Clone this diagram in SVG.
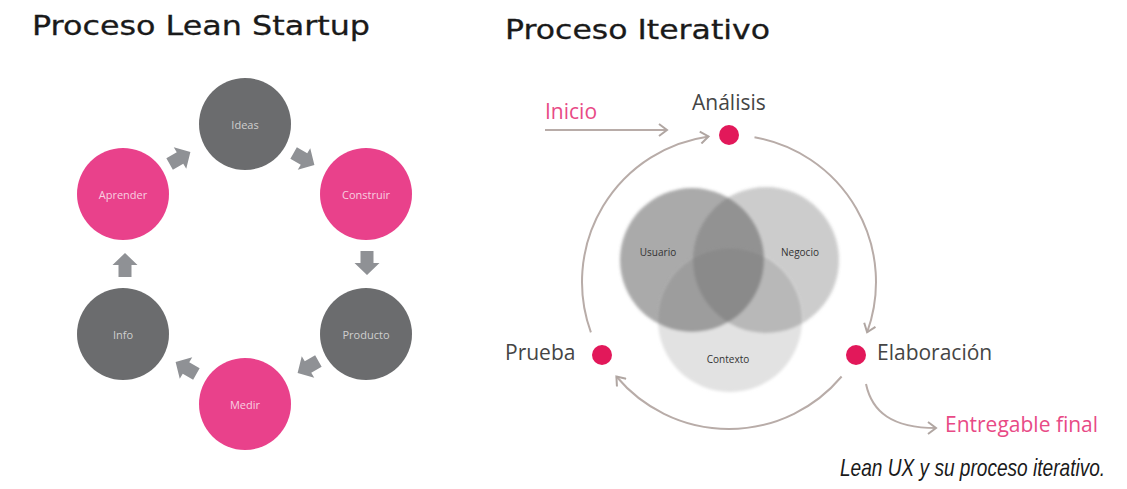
<svg xmlns="http://www.w3.org/2000/svg" width="1127" height="489" viewBox="0 0 1127 489">
  <style>
    .title { font-family: "DejaVu Sans", Verdana, sans-serif; font-size: 27px; fill: #1a1a1a; stroke: #1a1a1a; stroke-width: 0.3; }
    .lbl { font-family: "Open Sans", "Liberation Sans", sans-serif; font-size: 11px; text-anchor: middle; dominant-baseline: central; }
    .gray { fill: #6b6c6e; }
    .pink { fill: #e9418b; }
    .lg { fill: #cfcfcf; }
    .lp { fill: #f8cfe0; }
    .blk { fill: #8f9195; }
    .step { font-family: "Open Sans", "Liberation Sans", sans-serif; font-size: 21px; fill: #454545; }
    .pinkt { font-family: "Open Sans", "Liberation Sans", sans-serif; font-size: 21px; fill: #e84a86; }
    .dot { fill: #e2185a; }
    .venn { font-family: "Open Sans", "Liberation Sans", sans-serif; font-size: 10px; fill: #333; text-anchor: middle; dominant-baseline: central; }
    .arc { fill: none; stroke: #b8aca8; stroke-width: 2; marker-end: url(#chev); }
    .cap { font-family: "Liberation Sans", Arial, sans-serif; font-style: italic; font-size: 23px; fill: #1a1a1a; }
  </style>
  <defs>
    <marker id="chev" markerWidth="12" markerHeight="14" refX="10" refY="7" orient="auto" markerUnits="userSpaceOnUse">
      <path d="M2,1 L10,7 L2,13" fill="none" stroke="#b0a6a2" stroke-width="2"/>
    </marker>
    <path id="blockArrow" d="M-12,-6.5 L0,-6.5 L0,-12.5 L12,0 L0,12.5 L0,6.5 L-12,6.5 Z"/>
    <filter id="soft" x="-10%" y="-10%" width="120%" height="120%">
      <feGaussianBlur stdDeviation="1.5"/>
    </filter>
  </defs>
  <rect width="1127" height="489" fill="#ffffff"/>

  <text class="title" x="32" y="35" textLength="338" lengthAdjust="spacingAndGlyphs">Proceso Lean Startup</text>
  <text class="title" x="505" y="39" textLength="265" lengthAdjust="spacingAndGlyphs">Proceso Iterativo</text>

  <!-- Lean Startup cycle -->
  <g id="ideas"><circle class="gray" cx="245" cy="124" r="46"/><text class="lbl lg" x="245" y="124">Ideas</text></g>
  <g id="construir"><circle class="pink" cx="366" cy="194" r="46"/><text class="lbl lp" x="366" y="194">Construir</text></g>
  <g id="producto"><circle class="gray" cx="366" cy="334" r="46"/><text class="lbl lg" x="366" y="334">Producto</text></g>
  <g id="medir"><circle class="pink" cx="245" cy="404" r="46"/><text class="lbl lp" x="245" y="404">Medir</text></g>
  <g id="info"><circle class="gray" cx="123" cy="334" r="46"/><text class="lbl lg" x="123" y="334">Info</text></g>
  <g id="aprender"><circle class="pink" cx="123" cy="194" r="46"/><text class="lbl lp" x="123" y="194">Aprender</text></g>

  <g id="cycle-arrows" class="blk">
    <use href="#blockArrow" transform="translate(180,158) rotate(-30)"/>
    <use href="#blockArrow" transform="translate(304,159) rotate(30)"/>
    <use href="#blockArrow" transform="translate(367,263) rotate(90)"/>
    <use href="#blockArrow" transform="translate(308,367) rotate(150)"/>
    <use href="#blockArrow" transform="translate(186,368) rotate(210)"/>
    <use href="#blockArrow" transform="translate(125,265) rotate(-90)"/>
  </g>

  <!-- Venn -->
  <g id="venn">
    <g filter="url(#soft)">
      <circle cx="730" cy="320" r="72" fill="#e2e2e2"/>
      <circle cx="692" cy="260" r="72" fill="#646464" opacity="0.55"/>
      <circle cx="766" cy="260" r="73" fill="#646464" opacity="0.33"/>
    </g>
    <text class="venn" x="658" y="252">Usuario</text>
    <text class="venn" x="800" y="252">Negocio</text>
    <text class="venn" x="728" y="359">Contexto</text>
  </g>

  <!-- Iterative process connectors -->
  <g id="connectors">
    <line x1="545" y1="130" x2="667" y2="130" class="arc" stroke="#a5a5a5"/>
    <path class="arc" d="M754.5,137.2 A147,147 0 0 1 867.1,332.3"/>
    <path class="arc" d="M841.6,376.5 A147,147 0 0 1 616.4,376.5"/>
    <path class="arc" d="M590.9,332.3 A147,147 0 0 1 708.5,136.4"/>
    <path class="arc" d="M866,384 C872,412 892,428 936,428"/>
  </g>

  <g id="inicio"><text class="pinkt" x="545" y="119">Inicio</text></g>
  <g id="analisis"><circle class="dot" cx="729" cy="135" r="10"/><text class="step" x="692" y="110" font-size="20">Análisis</text></g>
  <g id="elaboracion"><circle class="dot" cx="856" cy="355" r="10"/><text class="step" x="877" y="360">Elaboración</text></g>
  <g id="prueba"><circle class="dot" cx="602" cy="355" r="10"/><text class="step" x="505" y="360">Prueba</text></g>
  <g id="entregable"><text class="pinkt" x="945" y="432">Entregable final</text></g>

  <text class="cap" transform="translate(840,476) scale(0.83,1)" x="0" y="0">Lean UX y su proceso iterativo.</text>
</svg>
